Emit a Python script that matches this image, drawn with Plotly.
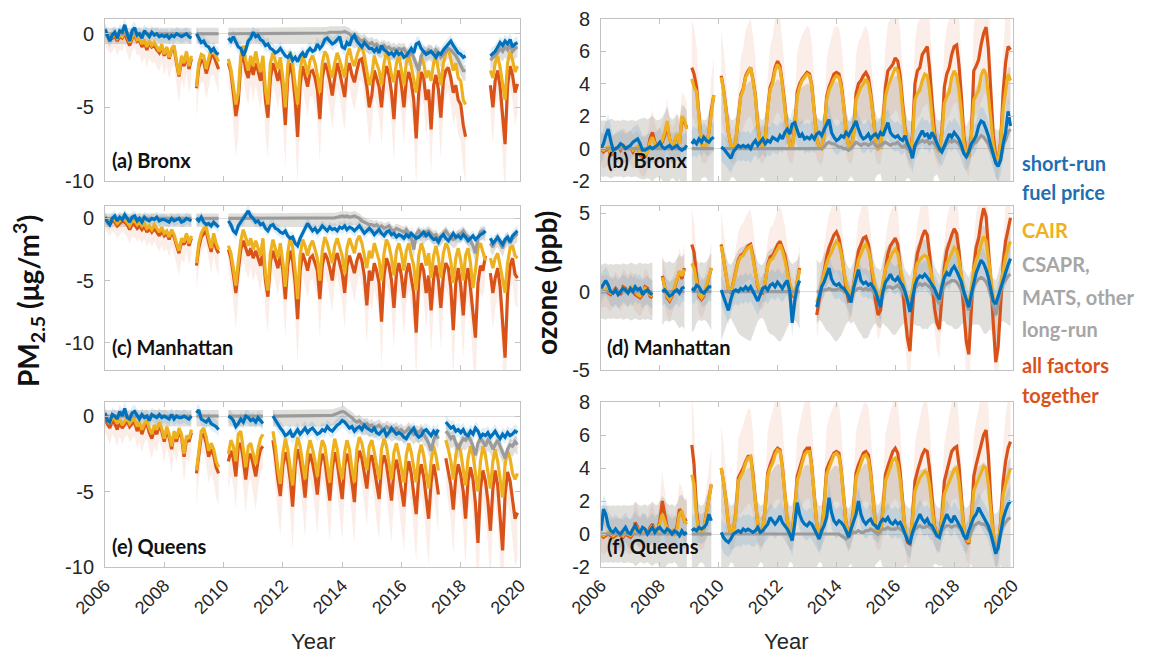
import plotly.graph_objects as go
import pandas as pd

NA = None
DATES = list(pd.date_range("2006-01-01", periods=168, freq="MS"))

# ---------------- PM2.5 Bronx (a) ----------------
a_fuel = [
    0.3, -0.2, -0.5, -0.1, 0.1, -0.3, 0.2, 0.1, 0.6, 0.0, -0.5, 0.2,
    0.4, -0.1, 0.0, -0.3, 0.2, 0.0, -0.2, 0.1, -0.1, 0.0, -0.2, -0.1,
    -0.2, -0.1, -0.3, -0.1, -0.2, 0.0, -0.1, -0.2, -0.1, 0.0, -0.2, -0.3,
    NA, 0.0, -0.3, -0.6, -0.5, -0.8, -0.9, -1.2, -1.0, -1.3, -1.4, NA,
    NA, NA, -0.3, -0.5, -0.2, -0.6, -0.9, -1.0, -1.5, -1.1, -0.5, -0.3,
    0.1, -0.2, -0.1, -0.4, -0.5, -0.8, -0.7, -1.0, -1.1, -1.3, -1.2, -1.0,
    -1.3, -1.5, -1.6, -1.4, -1.8, -1.6, -1.9, -1.5, -1.3, -1.6, -1.2, -1.0,
    -1.2, -1.1, -0.7, -1.0, -0.8, -0.4, -0.3, -0.5, -0.7, -0.6, -0.4, -0.2,
    -0.9, -1.0, -0.6, -0.8, -0.3, -0.1, -0.5, -0.7, -0.9, -0.6, -0.8, -1.0,
    -1.0, -1.2, -1.0, -1.3, -0.8, -1.1, -1.2, -1.4, -1.3, -1.5, -1.2, -1.4,
    -1.3, -1.6, -1.5, -1.2, -1.0, -1.3, -0.7, -0.6, -1.0, -1.2, -1.4, -1.3,
    -1.2, -1.4, -1.6, -1.3, -1.4, -1.1, -0.9, -0.7, -0.5, -0.8, -1.1, -1.3,
    -1.4, -1.6, -1.5, NA, NA, NA, NA, NA, NA, NA, NA, NA,
    -1.5, -1.3, -1.2, -0.9, -0.6, -0.8, -0.5, -0.7, -0.4, -0.9, -0.7, -0.6,
]
a_cair = [
    0.2, -0.1, -0.3, -0.2, 0.0, -0.3, -0.1, -0.2, 0.2, -0.1, -0.6, -0.2,
    0.1, -0.4, -0.3, -0.7, -0.4, -0.9, -0.5, -0.8, -0.6, -0.9, -1.2, -0.7,
    -1.4, -0.9, -1.6, -1.0, -0.8, -1.9, -2.8, -1.5, -2.0, -1.2, -2.2, -1.5,
    NA, -3.6, -2.0, -1.4, -1.5, -2.4, -1.7, -1.0, -1.2, -1.6, -1.9, NA,
    NA, NA, -1.7, -2.4, -3.5, -4.8, -4.0, -1.5, -0.8, -1.8, -2.5, -1.5,
    -2.2, -1.2, -2.0, -2.6, -1.5, -3.8, -4.8, -2.0, -1.3, -1.8, -2.4, -1.6,
    -3.0, -5.0, -2.2, -1.2, -2.0, -3.5, -4.8, -2.5, -1.5, -2.0, -2.8, -1.8,
    -1.5, -2.0, -2.8, -4.0, -2.0, -1.2, -1.5, -2.4, -3.0, -2.0, -1.3, -1.8,
    -2.5, -3.0, -1.5, -1.0, -1.8, -2.2, -1.5, -1.0, -0.8, -1.5, -2.5, -3.5,
    -2.8, -1.5, -2.0, -2.5, -3.5, -2.0, -1.2, -1.8, -2.8, -3.3, -2.0, -1.5,
    -2.5, -3.5, -2.0, -1.5, -2.2, -3.0, -4.0, -2.5, -1.5, -2.0, -3.0, -2.5,
    -3.2, -2.0, -1.5, -2.5, -3.5, -2.0, -1.3, -1.0, -1.8, -2.5, -2.0, -3.0,
    -3.2, -4.5, -4.8, NA, NA, NA, NA, NA, NA, NA, NA, NA,
    -2.5, -3.0, -2.0, -1.5, -2.3, -3.5, -4.5, -2.0, -1.2, -1.8, -2.6, -2.2,
]
a_other = [
    0, 0, 0, 0, 0, 0, 0, 0, 0, 0, 0, 0,
    0, 0, 0, 0, 0, 0, 0, 0, 0, 0, 0, 0,
    0, 0, 0, 0, 0, 0, 0, 0, 0, 0, 0, 0,
    NA, 0, 0, 0, 0, 0, 0, 0, 0, 0, 0, NA,
    NA, NA, 0, 0, 0, 0, 0, 0, 0, 0, 0, 0,
    0, 0, 0, 0, 0, 0, 0, 0, 0, 0, 0, 0,
    0, 0, 0, 0, 0, 0, 0, 0, 0, 0, 0, 0,
    0, 0, 0, 0, 0, 0, 0.05, 0.1, 0.1, 0.1, 0.1, 0.05,
    0.1, 0.15, 0.1, 0.0, -0.2, -0.3, -0.2, -0.4, -0.5, -0.4, -0.6, -0.7,
    -0.6, -0.8, -0.7, -0.9, -1.0, -0.8, -1.0, -0.9, -1.1, -1.0, -1.2, -1.0,
    -1.1, -1.0, -1.3, -1.5, -1.2, -1.6, -2.0, -2.5, -1.5, -1.2, -1.3, -1.1,
    -1.2, -1.4, -1.1, -1.3, -1.6, -1.4, -1.2, -1.0, -1.1, -1.3, -1.5, -1.8,
    -2.2, -2.5, -2.5, NA, NA, NA, NA, NA, NA, NA, NA, NA,
    -1.8, -1.6, -1.5, -1.3, -1.0, -1.2, -0.9, -1.1, -0.8, -1.2, -1.0, -0.9,
]
a_all = [
    0.1, -0.2, -0.4, -0.3, -0.1, -0.5, -0.2, -0.3, 0.0, -0.4, -0.8, -0.3,
    -0.1, -0.5, -0.4, -0.9, -0.6, -1.1, -0.6, -0.9, -0.8, -1.1, -1.3, -0.9,
    -1.5, -1.0, -1.7, -1.1, -1.0, -2.0, -2.9, -1.7, -2.2, -1.4, -2.4, -1.7,
    NA, -3.7, -2.3, -1.8, -1.9, -2.7, -2.1, -1.5, -1.5, -2.0, -2.4, NA,
    NA, NA, -2.0, -2.6, -4.0, -5.6, -4.6, -2.0, -1.4, -2.5, -3.0, -2.0,
    -2.8, -2.0, -2.5, -3.2, -2.2, -4.5, -5.7, -3.0, -2.0, -2.5, -3.2, -2.4,
    -3.8, -6.2, -3.0, -2.0, -2.8, -4.5, -7.0, -3.5, -2.2, -2.8, -3.6, -2.6,
    -2.5, -3.0, -3.8, -5.8, -3.0, -2.0, -2.4, -3.2, -4.2, -3.0, -2.0, -2.6,
    -3.5, -4.3, -2.6, -2.0, -2.8, -3.3, -2.5, -1.8, -1.7, -2.6, -3.6, -5.0,
    -4.2, -2.5, -3.0, -3.6, -5.0, -3.0, -2.2, -2.8, -4.0, -5.8, -3.0, -2.5,
    -3.5, -5.0, -3.2, -2.6, -3.3, -4.5, -7.1, -4.0, -2.6, -3.0, -4.5, -3.8,
    -6.5, -3.5, -2.8, -3.8, -5.7, -3.2, -2.5, -2.3, -3.0, -4.0, -3.5, -4.5,
    -4.8, -6.2, -7.0, NA, NA, NA, NA, NA, NA, NA, NA, NA,
    -3.5, -5.0, -3.2, -2.5, -3.6, -5.8, -7.5, -3.5, -2.2, -2.8, -4.0, -3.4,
]

# ---------------- PM2.5 Manhattan (c) ----------------
c_fuel = [
    0.1, -0.3, -0.5, 0.0, 0.2, -0.2, 0.1, -0.1, 0.3, 0.0, -0.3, 0.1,
    0.2, -0.2, 0.0, -0.3, 0.1, -0.1, -0.2, 0.0, -0.1, 0.1, -0.2, -0.1,
    -0.1, -0.2, -0.3, 0.0, -0.2, -0.1, 0.0, -0.3, -0.2, 0.0, -0.1, -0.2,
    NA, 0.0, -0.2, 0.1, -0.3, -0.5, -0.4, -0.6, -0.3, -0.5, -0.7, NA,
    NA, NA, -0.2, -0.5, -1.0, -1.2, -0.6, -0.3, -0.1, 0.3, 0.6, 0.2,
    0.0, -0.3, -0.2, -0.5, -0.4, -0.8, -1.0, -0.6, -0.5, -0.8, -0.9, -1.1,
    -1.2, -1.0, -1.4, -1.6, -1.5, -2.0, -2.2, -1.6, -1.2, -0.8, -0.4, -0.7,
    -1.0, -0.8, -1.1, -0.9, -0.6, -0.8, -1.0, -0.7, -0.9, -0.8, -1.0, -0.7,
    -0.8, -0.6, -0.9, -0.7, -0.8, -1.0, -0.8, -0.6, -0.9, -1.2, -1.0, -0.8,
    -1.0, -1.3, -1.1, -0.9, -1.2, -1.4, -1.1, -1.0, -1.3, -1.2, -1.5, -1.3,
    -1.4, -1.6, -1.3, -1.5, -1.2, -1.4, -1.6, -1.5, -1.3, -1.1, -1.4, -1.2,
    -1.5, -1.7, -1.6, -1.9, -1.5, -1.3, -1.6, -1.8, -1.5, -1.2, -1.5, -1.4,
    -1.6, -1.3, -1.5, -1.8, -1.6, -1.4, -1.7, -1.5, -1.3, -1.2, -1.0, NA,
    -1.6, -2.0, -1.8, -1.5, -1.8, -2.1, -1.7, -1.5, -1.9, -1.4, -1.2, -1.0,
]
c_cair = [
    0.1, -0.2, -0.3, 0.0, -0.1, -0.4, -0.2, 0.0, -0.1, -0.3, -0.6, -0.2,
    -0.2, -0.5, -0.3, -0.6, -0.4, -0.8, -0.6, -0.9, -0.5, -0.8, -1.1, -0.7,
    -1.2, -1.0, -1.5, -0.9, -1.3, -2.0, -2.6, -1.6, -1.9, -1.2, -2.0, -1.4,
    NA, -3.6, -2.0, -1.2, -0.8, -0.7, -1.6, -2.4, -1.2, -2.0, -2.5, NA,
    NA, NA, -2.2, -2.8, -4.0, -5.4, -3.5, -1.8, -0.9, -1.5, -2.2, -1.6,
    -2.5, -1.8, -2.4, -3.0, -1.6, -4.5, -5.8, -2.8, -1.7, -2.4, -3.2, -2.0,
    -3.5, -5.5, -2.8, -1.5, -2.3, -4.2, -6.5, -3.0, -1.7, -2.2, -3.0, -2.2,
    -1.8, -2.5, -3.2, -5.0, -2.6, -1.5, -2.0, -2.8, -3.6, -2.2, -1.6, -2.3,
    -3.0, -4.5, -2.4, -1.6, -2.2, -2.8, -1.8, -1.4, -2.0, -3.0, -4.0, -2.6,
    -3.2, -2.0, -2.6, -3.4, -5.0, -2.8, -1.7, -2.2, -3.2, -4.6, -2.6, -2.0,
    -2.8, -4.2, -2.6, -2.0, -3.0, -3.8, -5.8, -3.0, -2.0, -2.6, -3.8, -2.8,
    -4.8, -3.0, -2.2, -3.2, -4.8, -2.8, -2.0, -2.4, -3.5, -5.2, -3.2, -2.4,
    -3.4, -5.0, -3.0, -2.4, -3.6, -5.6, -4.2, -2.4, -2.0, -2.8, -3.4, NA,
    -3.2, -4.0, -3.2, -2.8, -3.8, -5.0, -6.0, -3.6, -2.4, -2.2, -3.0, -3.2,
]
c_other = [
    0, 0, 0, 0, 0, 0, 0, 0, 0, 0, 0, 0,
    0, 0, 0, 0, 0, 0, 0, 0, 0, 0, 0, 0,
    0, 0, 0, 0, 0, 0, 0, 0, 0, 0, 0, 0,
    NA, 0, 0, 0, 0, 0, 0, 0, 0, 0, 0, NA,
    NA, NA, 0, 0, 0, 0, 0, 0, 0, 0, 0, 0,
    0, 0, 0, 0, 0, 0, 0, 0, 0, 0, 0, 0,
    0, 0, 0, 0, 0, 0, 0, 0, 0, 0, 0, 0,
    0, 0, 0, 0, 0, 0, 0, 0, 0, 0.05, 0.1, 0.15,
    0.2, 0.15, 0.2, 0.1, 0.15, 0.2, 0.1, 0.0, -0.2, -0.3, -0.4, -0.5,
    -0.5, -0.6, -0.5, -0.7, -0.6, -0.8, -0.7, -0.6, -0.9, -1.0, -0.8, -0.9,
    -1.0, -1.1, -0.9, -1.2, -1.5, -2.5, -1.3, -1.0, -1.2, -1.4, -1.1, -1.0,
    -1.2, -1.4, -1.3, -1.6, -1.5, -1.2, -1.0, -1.3, -1.5, -1.7, -1.6, -1.3,
    -1.2, -1.0, -1.3, -1.5, -1.8, -2.2, -2.8, -1.6, -1.1, -1.0, -1.2, NA,
    -2.0, -2.3, -1.8, -1.6, -2.0, -2.4, -1.8, -1.5, -2.0, -1.6, -1.4, -1.2,
]
c_all = [
    0.0, -0.3, -0.5, -0.2, -0.3, -0.6, -0.4, -0.2, -0.3, -0.5, -0.9, -0.5,
    -0.5, -0.8, -0.6, -0.9, -0.6, -1.1, -0.8, -1.1, -0.8, -1.1, -1.4, -1.0,
    -1.4, -1.2, -1.7, -1.1, -1.5, -2.2, -2.8, -1.8, -2.1, -1.4, -2.2, -1.6,
    NA, -3.8, -2.4, -1.5, -1.2, -1.0, -1.9, -2.7, -1.6, -2.4, -2.8, NA,
    NA, NA, -2.5, -3.2, -4.5, -6.0, -4.2, -2.5, -1.8, -2.5, -3.0, -2.4,
    -3.2, -2.6, -3.2, -3.8, -2.6, -5.0, -6.3, -3.5, -2.6, -3.2, -4.0, -2.9,
    -4.2, -6.5, -3.8, -2.6, -3.4, -5.2, -8.1, -4.2, -2.8, -3.4, -4.2, -3.2,
    -3.0, -3.6, -4.2, -6.5, -3.8, -2.8, -3.2, -4.0, -5.0, -3.4, -2.8, -3.6,
    -4.4, -6.0, -3.8, -3.0, -3.6, -4.4, -3.4, -2.8, -3.4, -4.6, -7.0, -4.2,
    -5.0, -3.6, -4.2, -5.2, -8.3, -4.6, -3.2, -3.8, -5.0, -7.2, -4.4, -3.6,
    -4.6, -6.4, -4.4, -3.6, -4.8, -6.0, -9.2, -5.0, -3.6, -4.2, -6.0, -4.6,
    -7.4, -4.8, -3.8, -5.0, -7.2, -4.6, -3.6, -4.0, -5.6, -9.0, -5.2, -4.0,
    -5.4, -7.8, -5.0, -4.0, -5.6, -8.0, -9.6, -5.2, -3.8, -4.2, -3.0, NA,
    -4.4, -6.0, -4.8, -4.0, -5.5, -8.0, -11.2, -6.0, -3.8, -3.2, -4.5, -4.8,
]

# ---------------- PM2.5 Queens (e) ----------------
e_fuel = [
    0.2, -0.3, -0.4, 0.1, 0.0, -0.2, 0.3, 0.0, 0.5, -0.1, -0.2, 0.2,
    0.3, 0.0, -0.2, 0.1, -0.1, 0.0, -0.3, 0.1, 0.0, -0.1, 0.1, -0.1,
    0.0, -0.1, -0.2, 0.1, -0.2, 0.0, -0.1, -0.1, 0.0, -0.1, -0.2, 0.0,
    NA, 0.2, 0.4, -0.2, -0.3, -0.4, -0.2, -0.5, -0.6, -0.7, -0.9, NA,
    NA, NA, 0.0, -0.1, -0.3, -0.7, -0.5, -0.2, -0.4, 0.0, -0.1, -0.3,
    -0.2, -0.4, -0.1, -0.3, -0.5, NA, NA, NA, 0.0, -0.3, -0.6, -0.8,
    -1.0, -1.3, -1.2, -1.0, -1.4, -1.1, -0.9, -1.2, -1.0, -0.8, -1.1, -0.9,
    -0.8, -1.0, -1.2, -1.1, -0.9, -1.0, -0.7, -0.9, -1.0, -0.8, -0.6, -0.5,
    -0.3, -0.4, -0.6, -0.8, -0.7, -1.0, -0.8, -0.7, -0.9, -0.6, -0.8, -0.9,
    -1.0, -0.8, -1.1, -1.2, -1.0, -0.9, -1.3, -1.1, -0.8, -1.0, -1.2, -1.1,
    -1.2, -1.4, -1.5, -1.2, -1.0, -0.8, -1.2, -1.4, -1.3, -1.0, -0.9, -1.1,
    -1.3, -1.0, -1.2, -0.9, NA, NA, -0.4, -0.6, -0.8, -0.7, -1.0, -0.9,
    -1.1, -0.9, -1.2, -1.3, -1.0, -1.2, -0.8, -1.0, -1.4, -1.2, -1.3, -1.1,
    -1.4, -1.2, -1.0, -1.3, -1.5, -1.2, -1.4, -1.1, -1.3, -1.2, -1.0, -1.1,
]
e_cair = [
    0.0, -0.3, -0.5, -0.1, -0.2, -0.5, -0.2, -0.6, -0.3, -0.1, -0.5, -0.3,
    -0.2, -0.7, -0.4, -0.9, -0.5, -0.3, -0.8, -1.2, -0.6, -0.9, -0.4, -0.8,
    -1.5, -0.7, -1.2, -2.0, -1.0, -1.5, -0.8, -1.2, -2.5, -1.3, -1.5, -0.9,
    NA, -3.6, -2.2, -1.0, -0.8, -1.4, -2.3, -1.8, -2.2, -3.0, -3.4, NA,
    NA, NA, -2.5, -1.6, -2.0, -3.0, -1.2, -1.0, -2.2, -3.4, -2.0, -1.8,
    -2.5, -3.2, -2.2, -1.5, -1.2, NA, NA, NA, -1.0, -2.0, -3.5, -4.5,
    -2.5, -1.5, -2.2, -3.4, -4.6, -2.4, -1.4, -2.0, -3.0, -4.2, -2.4, -1.6,
    -2.2, -3.0, -4.0, -2.5, -1.6, -2.0, -3.2, -4.4, -2.6, -1.5, -2.2, -3.4,
    -4.2, -2.4, -1.6, -2.2, -3.5, -4.4, -2.2, -1.4, -1.8, -2.8, -3.6, -2.0,
    -1.6, -2.4, -3.4, -4.2, -2.2, -1.5, -2.0, -3.2, -4.2, -2.4, -1.8, -2.6,
    -3.6, -4.4, -2.6, -1.8, -2.4, -3.4, -4.4, -2.6, -1.9, -2.6, -3.6, -4.8,
    -3.0, -2.0, -2.6, -3.6, NA, NA, -1.6, -2.2, -3.0, -4.2, -2.6, -1.8,
    -2.4, -3.4, -4.6, -2.8, -2.0, -2.6, -3.8, -5.0, -3.0, -2.0, -2.6, -3.6,
    -4.8, -3.0, -2.2, -3.0, -4.4, -5.4, -3.2, -2.3, -2.8, -3.8, -4.2, -3.8,
]
e_other = [
    0, 0, 0, 0, 0, 0, 0, 0, 0, 0, 0, 0,
    0, 0, 0, 0, 0, 0, 0, 0, 0, 0, 0, 0,
    0, 0, 0, 0, 0, 0, 0, 0, 0, 0, 0, 0,
    NA, 0, 0, 0, 0, 0, 0, 0, 0, 0, 0, NA,
    NA, NA, 0, 0, 0, 0, 0, 0, 0, 0, 0, 0,
    0, 0, 0, 0, 0, NA, NA, NA, 0, 0, 0, 0,
    0, 0, 0, 0, 0, 0, 0, 0, 0, 0, 0, 0,
    0, 0, 0, 0, 0, 0, 0, 0, 0.05, 0.1, 0.15, 0.2,
    0.3, 0.25, 0.1, 0.0, -0.1, -0.3, -0.4, -0.3, -0.5, -0.6, -0.5, -0.7,
    -0.6, -0.8, -0.7, -0.6, -0.8, -0.9, -0.7, -0.8, -1.0, -0.9, -0.8, -1.0,
    -0.9, -1.1, -1.0, -0.8, -1.0, -1.2, -1.0, -1.1, -0.9, -1.2, -1.4, -1.8,
    -2.3, -1.6, -1.2, -1.5, NA, NA, -1.0, -1.2, -1.5, -1.3, -1.8, -2.2,
    -1.8, -1.5, -1.6, -1.3, -1.6, -2.0, -2.6, -1.8, -1.5, -1.7, -2.0, -1.6,
    -1.8, -2.2, -1.9, -1.6, -2.0, -2.4, -2.8, -2.2, -1.9, -2.0, -1.7, -1.9,
]
e_all = [
    -0.2, -0.5, -0.8, -0.3, -0.5, -0.9, -0.4, -0.8, -0.5, -0.3, -0.7, -0.5,
    -0.4, -1.0, -0.6, -1.2, -0.7, -0.5, -1.1, -1.5, -0.9, -1.2, -0.6, -1.0,
    -1.7, -0.9, -1.4, -2.2, -1.2, -1.7, -1.0, -1.4, -2.7, -1.5, -1.7, -1.1,
    NA, -3.8, -2.5, -1.3, -1.2, -1.8, -2.7, -2.2, -2.6, -3.4, -3.8, NA,
    NA, NA, -3.0, -2.3, -2.8, -4.0, -2.0, -1.8, -2.9, -4.2, -2.8, -2.5,
    -3.2, -4.0, -3.0, -2.2, -2.0, NA, NA, NA, -1.6, -2.7, -4.2, -5.3,
    -3.3, -2.4, -3.0, -4.2, -6.0, -3.3, -2.2, -2.9, -4.0, -5.4, -3.3, -2.5,
    -3.1, -4.0, -5.2, -3.4, -2.5, -2.9, -4.2, -5.6, -3.5, -2.4, -3.1, -4.4,
    -5.5, -3.3, -2.5, -3.1, -4.5, -5.7, -3.1, -2.3, -2.8, -3.8, -4.8, -3.0,
    -2.6, -3.5, -4.6, -5.5, -3.3, -2.6, -3.2, -4.5, -5.6, -3.6, -2.9, -3.8,
    -5.0, -6.0, -3.9, -3.0, -3.8, -5.0, -6.5, -4.0, -3.2, -4.0, -5.3, -6.8,
    -4.4, -3.2, -4.0, -5.2, NA, NA, -2.8, -3.6, -4.6, -6.2, -4.0, -3.2,
    -3.9, -5.0, -6.8, -4.3, -3.4, -4.2, -5.8, -8.4, -4.8, -3.6, -4.3, -5.6,
    -7.6, -4.8, -3.6, -4.6, -6.6, -8.9, -5.2, -3.7, -4.3, -5.5, -6.8, -6.4,
]

# ---------------- ozone Bronx (b) ----------------
b_fuel = [
    0.0, 0.3, 0.8, 1.2, 0.5, -0.1, 0.0, 0.1, 0.3, 0.2, 0.0, 0.1,
    0.2, 0.4, 0.5, 0.6, 0.3, -0.1, -0.1, 0.0, 0.1, 0.0, 0.1, 0.2,
    0.4, 0.1, 0.0, 0.1, 0.2, 0.0, 0.1, 0.2, 0.0, -0.1, 0.0, 0.2,
    NA, 0.3, 0.5, 0.3, 0.6, 0.4, 0.7, 0.5, 0.4, 0.6, 0.7, NA,
    NA, 0.1, 0.0, -0.2, -0.4, -0.6, -0.2, 0.0, 0.2, 0.1, 0.2, 0.1,
    0.2, 0.0, 0.3, 0.5, 0.2, 0.4, 0.6, 0.3, 0.5, 0.4, 0.7, 0.6,
    0.5, 0.8, 0.6, 1.0, 1.2, 0.9, 1.5, 1.6, 1.1, 0.7, 0.9, 0.6,
    0.7, 0.6, 0.8, 0.6, 0.9, 1.0, 0.8, 1.2, 1.5, 1.8, 1.0, 0.7,
    0.5, 0.6, 0.8, 0.7, 1.0, 0.8, 1.1, 1.3, 1.7, 1.2, 0.8, 0.6,
    0.7, 0.9, 0.6, 0.8, 0.9, 0.7, 1.0, 0.8, 1.2, 1.6, 1.0, 0.8,
    0.7, 0.8, 0.6, 0.5, 0.8, 0.3, 0.0, -0.6, 0.2, 0.5, 0.8, 1.1,
    0.8, 0.9, 0.6, 1.0, 0.7, 0.3, 0.0, -0.2, 0.2, 0.6, 0.9, 0.7,
    1.0, 0.8, 0.6, 0.2, -0.3, -0.5, -0.2, 0.3, 0.5, 0.8, 1.4, 1.7,
    1.6, 1.2, 0.8, 0.2, -0.4, -0.9, -1.1, -0.7, 0.3, 1.0, 2.3, 1.4,
]
b_cair = [
    0.0, -0.1, 0.0, 0.1, -0.3, -0.2, 0.0, 0.1, 0.0, 0.2, 0.1, 0.0,
    0.1, -0.1, 0.0, 0.1, -0.3, -0.4, -0.4, -0.2, 0.4, 0.7, 0.3, 0.1,
    0.2, 0.5, 1.0, 1.7, 0.6, 0.2, 0.4, 0.9, 0.3, 2.0, 1.8, 1.2,
    NA, 4.3, 3.8, 3.5, 2.0, 0.3, 0.1, 0.2, 1.0, 2.3, 3.3, NA,
    NA, 4.4, 3.6, 2.4, 1.0, 0.2, 0.1, 0.5, 2.0, 3.2, 3.6, 4.4,
    4.7, 5.0, 4.2, 3.2, 1.4, 0.3, 0.1, 0.6, 2.4, 3.6, 4.0, 4.8,
    5.2, 4.9, 3.9, 2.6, 1.0, 0.2, 0.1, 1.2, 3.2, 3.8, 4.2, 4.4,
    4.6, 4.5, 3.8, 2.2, 0.6, 0.1, 0.0, 1.0, 3.0, 3.6, 4.0, 4.3,
    4.5, 4.4, 3.8, 2.6, 1.0, 0.2, 0.0, 0.8, 3.0, 3.4, 3.8, 4.0,
    4.3, 4.0, 3.2, 2.0, 0.6, 0.0, 0.1, 1.5, 3.2, 3.8, 4.2, 4.6,
    5.0, 4.8, 4.0, 2.4, 1.0, 0.2, -0.2, 0.6, 3.0, 3.4, 3.6, 4.2,
    4.6, 4.5, 3.6, 2.0, 0.6, 0.0, -0.2, 0.8, 2.8, 3.2, 3.5, 4.4,
    4.8, 4.5, 3.6, 2.2, 0.4, -0.3, -0.5, 0.6, 3.0, 3.3, 3.6, 4.5,
    4.9, 4.6, 3.4, 1.8, 0.2, -0.6, -0.8, 0.4, 2.5, 3.5, 4.6, 4.2,
]
b_other = [
    0, 0, 0, 0, 0, 0, 0, 0, 0, 0, 0, 0,
    0, 0, 0, 0, 0, 0, 0, 0, 0, 0, 0, 0,
    0, 0, 0, 0, 0, 0, 0, 0, 0, 0, 0, 0,
    NA, 0, 0, 0, 0, 0, 0, 0, 0, 0, 0, NA,
    NA, 0, 0, 0, 0, 0, 0, 0, 0, 0, 0, 0,
    0, 0, 0, 0, 0, 0, 0, 0, 0, 0, 0, 0,
    0, 0, 0, 0, 0, 0, 0, 0, 0, 0, 0, 0,
    0, 0, 0, 0, 0, 0, 0.0, 0.1, 0.3, 0.4, 0.3, 0.3,
    0.2, 0.1, 0.1, 0.0, 0.0, -0.1, 0.0, 0.2, 0.4, 0.3, 0.2, 0.3,
    0.3, 0.2, 0.3, 0.4, 0.2, 0.1, 0.2, 0.3, 0.4, 0.3, 0.2, 0.3,
    0.3, 0.4, 0.2, 0.1, 0.2, 0.0, -0.1, -0.3, 0.1, 0.3, 0.4, 0.5,
    0.4, 0.5, 0.3, 0.4, 0.3, 0.1, -0.1, -0.2, 0.1, 0.3, 0.5, 0.4,
    0.5, 0.4, 0.3, 0.0, -0.3, -0.5, -0.2, 0.1, 0.3, 0.4, 0.6, 0.8,
    0.7, 0.5, 0.3, -0.1, -0.5, -0.8, -1.0, -0.6, 0.2, 0.5, 1.0, 1.2,
]
b_all = [
    0.0, -0.2, -0.1, 0.0, -0.4, -0.3, 0.0, 0.1, -0.1, 0.2, 0.1, 0.0,
    0.1, -0.2, 0.0, 0.1, -0.4, -0.5, -0.5, -0.2, 0.6, 1.0, 0.4, 0.1,
    0.2, 0.4, 0.8, 1.5, 0.6, 0.2, 0.4, 0.8, 0.3, 1.8, 1.6, 1.3,
    NA, 5.0, 4.6, 3.8, 2.2, 0.3, 0.1, 0.2, 1.0, 2.4, 3.3, NA,
    NA, 4.5, 3.7, 2.5, 1.0, 0.2, 0.1, 0.5, 2.0, 3.3, 3.7, 4.5,
    4.8, 5.0, 4.3, 3.3, 1.4, 0.3, 0.1, 0.6, 2.5, 3.8, 4.2, 5.0,
    5.4, 5.1, 4.0, 2.7, 1.0, 0.2, 0.1, 1.3, 3.5, 4.0, 4.3, 4.5,
    4.7, 4.6, 3.9, 2.3, 0.6, 0.1, 0.0, 1.0, 3.2, 3.8, 4.2, 4.6,
    4.7, 4.6, 4.0, 2.7, 1.0, 0.2, 0.0, 0.9, 3.4, 4.0, 4.2, 4.5,
    4.7, 4.4, 3.5, 2.2, 0.6, 0.0, 0.1, 1.7, 3.8, 4.8, 5.0, 5.2,
    5.6, 5.4, 4.5, 2.8, 1.2, 0.2, -0.2, 0.8, 4.0, 4.8, 5.0, 5.8,
    6.1, 6.3, 5.0, 3.0, 1.0, 0.1, -0.2, 1.0, 3.8, 4.6, 5.0, 5.8,
    6.3, 6.4, 5.2, 3.2, 0.8, -0.3, -0.5, 0.8, 4.8, 5.1, 5.5, 6.4,
    7.1, 7.5, 6.2, 3.5, 0.8, -0.5, -0.8, 0.5, 3.5, 5.3, 6.3, 6.1,
]

# ---------------- ozone Manhattan (d) ----------------
d_fuel = [
    0.2, 0.5, 0.7, 0.4, 0.0, -0.1, 0.1, -0.2, 0.0, 0.2, 0.1, -0.1,
    0.2, 0.0, 0.3, 0.1, 0.2, -0.2, 0.0, 0.1, -0.1, -0.2, NA, NA,
    NA, 0.0, 0.1, -0.1, -0.3, -0.2, 0.0, 0.1, -0.1, 0.2, 0.3, NA,
    NA, 0.2, 0.1, 0.4, 0.3, 0.0, -0.1, 0.1, 0.3, 0.3, NA, NA,
    NA, 0.1, -0.3, -0.8, -1.2, -0.5, 0.0, 0.1, 0.0, 0.2, 0.1, 0.3,
    0.1, 0.3, 0.0, -0.3, -0.6, -0.2, 0.2, 0.3, 0.1, 0.4, 0.5, 0.3,
    0.6, 0.4, 0.2, 0.5, 0.7, 0.0, -2.0, -0.6, 0.3, 0.7, NA, NA,
    NA, NA, NA, NA, -1.0, -0.3, 0.3, 0.6, 1.0, 1.5, 0.8, 0.5,
    0.4, 0.5, 0.3, 0.2, 0.0, -0.3, -0.7, 0.2, 0.8, 1.4, 0.7, 0.5,
    0.6, 0.4, 0.5, 0.3, 0.0, -0.5, -1.0, 0.0, 0.6, 0.8, 1.1, 0.8,
    0.7, 0.9, 0.6, 0.4, 0.0, -0.6, -1.3, -0.5, 0.4, 0.8, 1.0, 0.9,
    1.1, 0.9, 0.7, 0.5, 0.2, -0.2, -0.5, 0.3, 0.9, 1.2, 1.0, 1.4,
    1.6, 1.3, 1.0, 0.6, 0.0, -0.5, -1.0, -0.2, 0.6, 1.2, 1.6, 2.0,
    1.8, 1.4, 0.9, 0.2, -0.6, -0.8, -0.3, 0.3, 0.8, 1.3, 1.7, 2.1,
]
d_cair = [
    0.0, 0.1, 0.2, 0.0, -0.1, 0.0, 0.1, -0.1, 0.0, 0.2, 0.1, 0.0,
    0.3, 0.2, 0.0, -0.2, -0.3, -0.1, 0.2, 0.1, -0.2, -0.3, NA, NA,
    NA, 0.9, 0.4, -0.3, -0.5, -0.2, 0.3, 0.8, 1.3, 1.0, 1.4, NA,
    NA, 1.8, 1.5, 0.6, -0.2, -0.4, -0.2, 0.4, 1.0, 1.5, NA, NA,
    NA, 2.9, 2.0, 1.0, 0.2, 0.0, 0.5, 1.2, 1.9, 2.2, 2.3, 2.6,
    2.8, 2.9, 2.2, 1.2, 0.4, 0.0, 0.0, 0.6, 1.6, 2.0, 2.1, 2.4,
    2.8, 3.0, 2.6, 2.0, 1.2, 0.5, 0.1, -0.3, 0.6, 1.4, NA, NA,
    NA, NA, NA, NA, -0.7, -0.2, 0.5, 1.2, 1.8, 2.2, 2.5, 2.9,
    3.2, 3.0, 2.4, 1.4, 0.5, 0.0, -0.1, 0.4, 1.2, 2.0, 2.4, 2.8,
    3.0, 2.6, 2.0, 1.0, 0.2, -0.3, -0.3, 0.6, 1.4, 1.8, 2.2, 2.5,
    2.7, 2.4, 1.6, 0.8, 0.0, -0.4, -0.5, 0.2, 1.2, 1.8, 2.0, 2.2,
    2.3, 2.2, 1.6, 0.9, 0.2, -0.2, -0.3, 0.4, 1.2, 1.8, 2.1, 2.4,
    2.8, 2.6, 2.0, 1.0, 0.0, -0.5, -0.8, 0.2, 1.4, 2.0, 2.4, 3.0,
    3.5, 3.2, 2.2, 0.8, -0.3, -1.0, -0.6, 0.4, 1.4, 2.2, 2.8, 3.2,
]
d_other = [
    0, 0, 0, 0, 0, 0, 0, 0, 0, 0, 0, 0,
    0, 0, 0, 0, 0, 0, 0, 0, 0, 0, NA, NA,
    NA, 0, 0, 0, 0, 0, 0, 0, 0, 0, 0, NA,
    NA, 0, 0, 0, 0, 0, 0, 0, 0, 0, NA, NA,
    NA, 0, 0, 0, 0, 0, 0, 0, 0, 0, 0, 0,
    0, 0, 0, 0, 0, 0, 0, 0, 0, 0, 0, 0,
    0, 0, 0, 0, 0, 0, 0, 0, 0, 0, NA, NA,
    NA, NA, NA, NA, 0.0, 0.0, 0.0, 0.1, 0.1, 0.2, 0.1, 0.1,
    0.1, 0.2, 0.1, 0.0, -0.1, -0.2, -0.3, 0.0, 0.1, 0.2, 0.2, 0.1,
    0.2, 0.1, 0.2, 0.0, -0.2, -0.4, -0.5, 0.0, 0.2, 0.3, 0.3, 0.2,
    0.3, 0.4, 0.2, 0.0, -0.3, -0.7, -1.0, -0.3, 0.2, 0.4, 0.5, 0.4,
    0.5, 0.4, 0.3, 0.1, -0.2, -0.5, -0.8, 0.0, 0.4, 0.5, 0.6, 0.7,
    0.7, 0.6, 0.4, 0.1, -0.3, -0.8, -1.2, -0.4, 0.3, 0.6, 0.8, 0.9,
    0.8, 0.6, 0.3, -0.3, -1.0, -1.5, -0.8, 0.0, 0.5, 0.8, 1.0, 1.1,
]
d_all = [
    0.0, 0.0, 0.1, -0.1, -0.2, 0.0, 0.2, 0.0, -0.2, 0.3, 0.2, 0.0,
    0.2, 0.1, -0.2, -0.3, -0.4, -0.2, 0.3, 0.2, -0.3, -0.4, NA, NA,
    NA, 1.0, 0.3, -0.4, -0.6, -0.3, 0.2, 0.7, 1.3, 0.8, 1.5, NA,
    NA, 3.0, 2.5, 1.0, -0.3, -0.5, -0.3, 0.3, 1.0, 1.5, NA, NA,
    NA, 3.0, 2.1, 1.0, 0.1, -0.1, 0.5, 1.3, 2.0, 2.3, 2.4, 2.7,
    2.9, 3.0, 2.3, 1.2, 0.3, -0.1, -0.1, 0.6, 1.7, 2.2, 2.3, 2.6,
    3.0, 3.2, 2.8, 2.3, 1.4, 0.4, -0.2, -0.4, 0.6, 1.5, NA, NA,
    NA, NA, NA, NA, -1.5, -0.6, 0.5, 1.4, 2.2, 2.8, 3.2, 3.6,
    3.8, 3.4, 2.6, 1.4, 0.2, -0.6, -0.5, 0.4, 1.6, 2.6, 3.0, 3.4,
    3.5, 3.0, 2.0, 0.6, -0.6, -1.5, -1.2, 0.4, 1.6, 2.4, 2.9, 3.2,
    3.4, 3.0, 1.8, 0.2, -1.5, -3.0, -3.8, -1.0, 1.2, 2.4, 3.0, 3.5,
    3.9, 3.6, 2.4, 0.6, -1.0, -2.0, -2.4, -0.4, 1.5, 2.6, 3.2, 3.6,
    4.0, 3.7, 2.6, 0.6, -1.5, -3.2, -4.0, -1.2, 1.5, 2.8, 3.4, 4.5,
    5.3, 4.8, 3.0, 0.5, -2.0, -4.5, -3.5, -0.5, 1.8, 3.2, 4.0, 4.7,
]

# ---------------- ozone Queens (f) ----------------
f_fuel = [
    0.2, 1.5, 1.2, 0.5, 0.2, 0.1, 0.3, 0.1, 0.0, 0.2, 0.4, 0.1,
    0.0, 0.3, 0.5, 0.2, 0.1, 0.4, 0.3, 0.0, 0.2, 0.4, 0.1, 0.3,
    0.4, 0.2, 0.1, 0.3, 0.2, 0.0, 0.2, 0.1, -0.1, 0.2, 0.0, 0.1,
    NA, 0.2, 0.3, 0.2, 0.4, 0.3, 0.4, 0.6, 1.2, 0.8, NA, NA,
    NA, 0.1, -0.2, -0.4, -0.5, -0.3, 0.0, 0.1, 0.2, 0.1, 0.3, 0.2,
    0.3, 0.2, 0.1, 0.2, 0.4, 0.1, 0.2, 0.4, 0.6, 1.0, 0.8, 0.6,
    0.8, 1.1, 0.7, 0.5, 0.3, 0.0, -0.4, 0.6, 1.9, 1.2, 0.8, 0.6,
    0.5, 0.7, 0.6, 0.3, 0.0, -0.3, 0.2, 0.5, 1.0, 2.2, 1.3, 0.8,
    0.6, 0.8, 0.7, 0.5, 0.2, -0.2, 0.3, 0.8, 1.2, 2.0, 1.2, 0.8,
    0.6, 0.8, 0.9, 0.6, 0.5, 0.3, 0.7, 0.9, 0.8, 1.0, 0.7, 0.6,
    0.8, 0.6, 0.7, 0.4, 0.0, -0.4, -0.6, 0.1, 0.5, 0.8, 1.2, 0.9,
    0.7, 0.9, 0.6, 0.5, 0.2, -0.1, -0.2, 0.4, 0.8, 1.2, 0.9, 0.7,
    1.1, 0.8, 0.6, 0.3, -0.1, -0.3, 0.2, 0.6, 1.0, 1.2, 1.6, 1.3,
    1.0, 0.8, 0.5, 0.0, -0.6, -1.2, -0.8, 0.2, 0.9, 1.4, 1.8, 2.0,
]
f_cair = [
    0.0, -0.1, 0.0, 0.1, 0.0, -0.1, 0.0, 0.1, 0.0, -0.1, 0.1, 0.0,
    -0.1, 0.1, 0.5, 0.3, 0.0, 0.1, 0.2, 0.0, 0.3, 0.5, 0.2, 0.1,
    0.6, 1.2, 0.8, 0.3, 0.1, 0.2, 0.0, 0.3, 1.2, 1.4, 0.8, 0.6,
    NA, 3.6, 3.0, 1.0, 0.2, 0.0, 0.3, 1.2, 2.2, 3.0, NA, NA,
    NA, 4.0, 3.2, 2.0, 0.6, 0.0, 0.2, 1.2, 3.2, 3.5, 3.8, 4.3,
    4.6, 4.7, 3.6, 2.0, 0.6, 0.0, 0.2, 1.5, 3.5, 4.0, 4.3, 4.8,
    5.1, 5.0, 4.0, 2.4, 0.8, 0.0, 0.1, 1.4, 3.2, 3.7, 4.2, 4.8,
    5.0, 5.0, 4.0, 2.2, 0.6, 0.0, 0.1, 1.6, 3.6, 4.0, 4.4, 4.8,
    4.9, 4.7, 3.8, 2.0, 0.6, 0.1, 0.2, 1.4, 3.4, 3.8, 4.2, 4.7,
    4.8, 4.5, 3.6, 2.0, 0.5, 0.0, 0.1, 1.3, 3.2, 3.6, 4.0, 4.5,
    4.6, 4.2, 3.3, 1.8, 0.3, -0.3, -0.4, 0.8, 2.6, 3.0, 3.4, 3.6,
    3.8, 3.7, 3.0, 1.6, 0.4, -0.1, -0.1, 0.8, 2.4, 2.8, 3.2, 3.6,
    3.9, 4.0, 3.2, 1.8, 0.3, -0.3, -0.5, 0.6, 2.6, 3.0, 3.4, 3.8,
    4.1, 4.0, 3.0, 1.4, 0.0, -0.6, -0.6, 0.5, 2.4, 3.0, 3.6, 4.0,
]
f_other = [
    0, 0, 0, 0, 0, 0, 0, 0, 0, 0, 0, 0,
    0, 0, 0, 0, 0, 0, 0, 0, 0, 0, 0, 0,
    0, 0, 0, 0, 0, 0, 0, 0, 0, 0, 0, 0,
    NA, 0, 0, 0, 0, 0, 0, 0, 0, 0, NA, NA,
    NA, 0, 0, 0, 0, 0, 0, 0, 0, 0, 0, 0,
    0, 0, 0, 0, 0, 0, 0, 0, 0, 0, 0, 0,
    0, 0, 0, 0, 0, 0, 0, 0, 0, 0, 0, 0,
    0, 0, 0, 0, 0, 0, 0, 0, 0, 0, 0, 0,
    0.0, 0.0, -0.1, -0.2, -0.3, -0.2, 0.0, 0.1, 0.1, 0.2, 0.1, 0.1,
    0.2, 0.2, 0.3, 0.2, 0.1, 0.0, 0.2, 0.3, 0.3, 0.4, 0.3, 0.3,
    0.3, 0.4, 0.3, 0.2, 0.0, -0.2, -0.4, 0.0, 0.3, 0.4, 0.5, 0.4,
    0.4, 0.5, 0.4, 0.3, 0.1, -0.1, -0.2, 0.2, 0.4, 0.5, 0.5, 0.4,
    0.5, 0.5, 0.4, 0.2, -0.1, -0.3, -0.2, 0.2, 0.5, 0.6, 0.7, 0.6,
    0.6, 0.5, 0.3, 0.0, -0.4, -0.8, -0.6, 0.1, 0.5, 0.7, 0.9, 1.0,
]
f_all = [
    0.0, -0.2, -0.1, 0.0, -0.1, -0.2, -0.1, 0.0, -0.1, -0.2, 0.0, -0.1,
    -0.2, 0.0, 0.7, 0.4, 0.0, 0.1, 0.2, 0.0, 0.4, 0.6, 0.2, 0.1,
    0.8, 2.0, 1.2, 0.4, 0.1, 0.2, 0.0, 0.5, 1.5, 1.3, 0.8, 0.9,
    NA, 5.4, 4.2, 1.4, 0.2, 0.0, 0.3, 1.3, 2.3, 3.0, NA, NA,
    NA, 4.0, 3.2, 2.0, 0.6, 0.0, 0.2, 1.3, 3.4, 3.7, 4.0, 4.4,
    4.7, 4.7, 3.7, 2.0, 0.6, 0.0, 0.2, 1.6, 3.7, 4.2, 4.6, 5.0,
    5.2, 5.1, 4.1, 2.4, 0.8, 0.0, 0.1, 1.5, 3.5, 4.0, 4.5, 5.0,
    5.2, 5.2, 4.1, 2.3, 0.6, 0.0, 0.1, 1.8, 3.9, 4.3, 4.6, 4.9,
    5.0, 4.9, 3.9, 2.1, 0.6, 0.1, 0.2, 1.6, 3.7, 4.2, 4.6, 4.9,
    5.0, 4.8, 3.8, 2.1, 0.5, 0.0, 0.1, 1.5, 3.6, 4.1, 4.6, 5.0,
    5.2, 4.9, 3.8, 2.0, 0.2, -0.5, -0.6, 1.0, 3.2, 3.8, 4.4, 4.8,
    5.1, 5.0, 4.0, 2.0, 0.5, -0.1, -0.1, 1.0, 3.2, 3.8, 4.4, 5.0,
    5.2, 5.3, 4.2, 2.2, 0.3, -0.4, -0.6, 0.8, 3.5, 4.2, 4.8, 5.5,
    6.0, 6.3, 4.8, 2.0, 0.0, -0.7, -0.8, 0.7, 3.2, 4.4, 5.2, 5.6,
]

# ---------------- text ----------------
X_TICKS = [2006, 2008, 2010, 2012, 2014, 2016, 2018, 2020]
PM_TICKS = [-10, -5, 0]
O3_TICKS = [-2, 0, 2, 4, 6, 8]
O3_TICKS_D = [-5, 0, 5]
LEGEND_LINES = [
    ("short-run", "fuel"), ("fuel price", "fuel"), ("CAIR", "cair"),
    ("CSAPR,", "other"), ("MATS, other", "other"), ("long-run", "other"),
    ("all factors", "all"), ("together", "all"),
]

# ---------------- styling ----------------
W, H = 1158, 661
COL = {"fuel": "#0072BD", "cair": "#EDB120", "other": "#9B9B9B", "all": "#D95319"}
LEG_COL = {"fuel": "#1F6FB2", "cair": "#EDB120", "other": "#A6A6A6", "all": "#D95319"}
BAND = {"fuel": "rgba(0,114,189,0.12)", "other": "rgba(125,120,110,0.24)",
        "all": "rgba(217,83,25,0.10)"}
ARIAL = "Liberation Sans, Arial, Helvetica, sans-serif"
CALIBRI = "Lato, Carlito, Open Sans, sans-serif"
AXCOL = "#c2c2c2"
TEXT_SHIFT = 8  # plotly draws annotation text slightly low; compensate in px


def px(x):
    return x / W


def py(y):
    return 1 - y / H


X_DOM = [(px(97), px(512)), (px(593), px(1005))]
Y_DOM = [(py(173), py(11)), (py(362), py(198)), (py(559), py(394))]

PANELS = [
    ("(a) Bronx", 0, 0, "pm", [-10, 1.0], PM_TICKS, (a_fuel, a_cair, a_other, a_all), 160),
    ("(b) Bronx", 1, 0, "o3", [-2, 8], O3_TICKS, (b_fuel, b_cair, b_other, b_all), 160),
    ("(c) Manhattan", 0, 1, "pm", [-12.2, 1.0], PM_TICKS, (c_fuel, c_cair, c_other, c_all), 347),
    ("(d) Manhattan", 1, 1, "o3", [-5, 5.45], O3_TICKS_D, (d_fuel, d_cair, d_other, d_all), 347),
    ("(e) Queens", 0, 2, "pm", [-10, 0.93], PM_TICKS, (e_fuel, e_cair, e_other, e_all), 546),
    ("(f) Queens", 1, 2, "o3", [-2, 8], O3_TICKS, (f_fuel, f_cair, f_other, f_all), 546),
]

for _, _, _, _, _, _, series, _ in PANELS:
    for s in series:
        assert len(s) == len(DATES), len(s)


def band_xy(xs, lo, hi):
    bx, by, seg = [], [], []

    def flush():
        if seg:
            bx.extend([s[0] for s in seg] + [s[0] for s in reversed(seg)] + [None])
            by.extend([s[2] for s in seg] + [s[1] for s in reversed(seg)] + [None])
            seg.clear()

    for x, l, h in zip(xs, lo, hi):
        if l is None or h is None:
            flush()
        else:
            seg.append((x, l, h))
    flush()
    return bx, by


def offs(vals, f):
    return [None if v is None else f(v) for v in vals]


fig = go.Figure()
layout = dict(
    width=W, height=H, autosize=False, showlegend=False,
    margin=dict(l=0, r=0, t=0, b=0, autoexpand=False),
    paper_bgcolor="white", plot_bgcolor="white",
    annotations=[],
)

for i, (label, col, row, kind, yr, yticks, series, label_y) in enumerate(PANELS, start=1):
    xa = "x" if i == 1 else f"x{i}"
    ya = "y" if i == 1 else f"y{i}"
    fuel, cair, other, allf = series

    if kind == "pm":
        bands = [
            ("other", offs(other, lambda v: v - 0.7), offs(other, lambda v: v + 0.4)),
            ("all", offs(allf, lambda v: v - 0.8 - 0.35 * abs(v)), offs(allf, lambda v: v + 0.4)),
            ("fuel", offs(fuel, lambda v: v - 0.45), offs(fuel, lambda v: v + 0.45)),
        ]
    else:
        bands = [
            ("all", offs(allf, lambda v: v - 1.0 - 0.4 * abs(v)), offs(allf, lambda v: v + 1.0 + 0.4 * abs(v))),
            ("other", [None if (g is None) else g - 1.7 - 0.5 * abs(c) for g, c in zip(other, cair)],
                      [None if (g is None) else g + 1.7 + 0.5 * abs(c) for g, c in zip(other, cair)]),
            ("fuel", offs(fuel, lambda v: v - 0.9), offs(fuel, lambda v: v + 0.9)),
        ]
    for key, lo, hi in bands:
        bx, by = band_xy(DATES, lo, hi)
        fig.add_trace(go.Scatter(x=bx, y=by, xaxis=xa, yaxis=ya, mode="lines",
                                 fill="toself", fillcolor=BAND[key], line=dict(width=0),
                                 hoverinfo="skip"))
    for key, vals in (("all", allf), ("cair", cair), ("other", other), ("fuel", fuel)):
        fig.add_trace(go.Scatter(x=DATES, y=vals, xaxis=xa, yaxis=ya, mode="lines",
                                 line=dict(color=COL[key], width=3.2), connectgaps=False))

    bottom = row == 2
    xkey = "xaxis" if i == 1 else f"xaxis{i}"
    ykey = "yaxis" if i == 1 else f"yaxis{i}"
    layout[xkey] = dict(
        domain=list(X_DOM[col]), anchor=ya, type="date", automargin=False,
        range=["2006-01-01", "2020-01-01"],
        tickvals=[f"{y}-01-01" for y in X_TICKS], ticktext=[str(y) for y in X_TICKS],
        showticklabels=bottom, tickangle=-45, ticklabeloverflow="allow",
        tickfont=dict(family=ARIAL, size=18, color="#262626"),
        showline=True, mirror="ticks", linecolor=AXCOL, linewidth=1,
        ticks="inside", ticklen=5, tickcolor=AXCOL,
        showgrid=False, zeroline=False,
    )
    layout[ykey] = dict(
        domain=list(Y_DOM[row]), anchor=xa, range=yr, automargin=False,
        tickvals=yticks, ticktext=[str(t) for t in yticks],
        ticklabeloverflow="allow", ticklabelstandoff=6,
        tickfont=dict(family=ARIAL, size=20, color="#262626"),
        showline=True, mirror="ticks", linecolor=AXCOL, linewidth=1,
        ticks="inside", ticklen=5, tickcolor=AXCOL,
        showgrid=False, zeroline=True, zerolinecolor="#dcdcdc", zerolinewidth=1,
    )
    lx = 102 if col == 0 else 597
    layout["annotations"].append(dict(
        text=f"<b>{label}</b>", x=px(lx), y=py(label_y - TEXT_SHIFT), xref="paper", yref="paper",
        xanchor="left", yanchor="middle", showarrow=False,
        font=dict(family=CALIBRI, size=20, color="#111111"),
    ))

# axis titles
layout["annotations"].append(dict(
    text="<b>PM<sub>2.5</sub> (μg/m<sup>3</sup>)</b>", x=px(20), y=py(293),
    xref="paper", yref="paper", textangle=-90, showarrow=False,
    xanchor="center", yanchor="middle",
    font=dict(family=CALIBRI, size=28, color="#111111"),
))
layout["annotations"].append(dict(
    text="<b>ozone (ppb)</b>", x=px(546 - TEXT_SHIFT), y=py(275),
    xref="paper", yref="paper", textangle=-90, showarrow=False,
    xanchor="center", yanchor="middle",
    font=dict(family=CALIBRI, size=28, color="#111111"),
))
for xc in (305, 778):
    layout["annotations"].append(dict(
        text="Year", x=px(xc), y=py(641 - TEXT_SHIFT), xref="paper", yref="paper",
        showarrow=False, xanchor="center", yanchor="middle",
        font=dict(family=ARIAL, size=22, color="#262626"),
    ))

LEG_Y = [163, 192, 230, 264, 297, 329, 365, 395]
for (txt, key), yc in zip(LEGEND_LINES, LEG_Y):
    layout["annotations"].append(dict(
        text=f"<b>{txt}</b>", x=px(1012), y=py(yc - TEXT_SHIFT), xref="paper", yref="paper",
        showarrow=False, xanchor="left", yanchor="middle",
        font=dict(family=CALIBRI, size=20, color=LEG_COL[key]),
    ))

fig.update_layout(**layout)
fig.write_html("out.html")
